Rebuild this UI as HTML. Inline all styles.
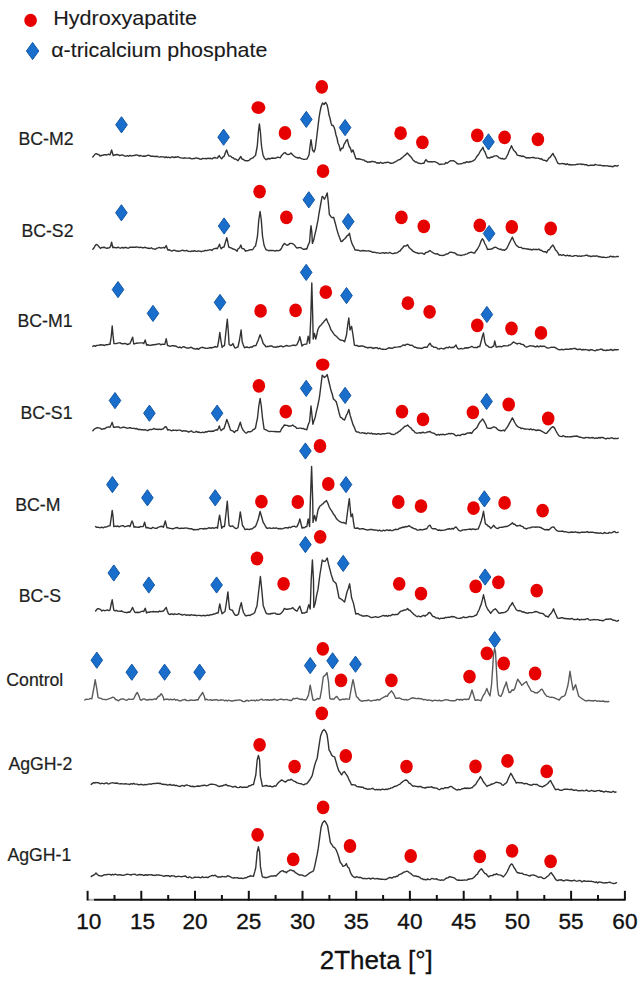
<!DOCTYPE html>
<html><head><meta charset="utf-8"><title>XRD patterns</title>
<style>html,body{margin:0;padding:0;background:#fff;}body{width:643px;height:984px;overflow:hidden;font-family:"Liberation Sans",sans-serif;}svg{display:block;}</style>
</head><body>
<svg width="643" height="984" viewBox="0 0 643 984"><defs><filter id="bl" x="-5%" y="-5%" width="110%" height="110%"><feGaussianBlur stdDeviation="0.5"/></filter></defs>
<g fill="none" stroke="#333" stroke-width="1.4" stroke-linejoin="round" stroke-linecap="round" filter="url(#bl)">
<path d="M92.8 157.0L93.9 155.6L95.1 154.1L96.2 153.6L97.5 154.3L98.7 154.6L100.0 156.0L101.4 155.5L102.8 155.3L104.2 154.6L105.6 154.8L107.0 155.0L108.5 154.2L110.0 155.0L111.6 150.0L113.2 155.5L114.5 155.0L115.8 154.7L117.1 154.5L118.4 154.9L119.7 155.7L121.0 155.1L122.3 154.9L123.5 155.4L124.8 156.1L126.1 156.0L127.4 155.6L128.7 156.3L130.0 155.3L131.3 156.0L132.6 155.6L133.9 155.5L135.2 155.2L136.5 154.9L137.8 155.1L139.1 156.0L140.4 155.5L141.6 155.9L142.9 156.2L144.2 156.0L145.5 156.2L146.8 155.6L148.1 155.3L149.4 155.4L150.7 156.2L152.0 156.2L153.3 156.1L154.6 156.5L155.9 156.5L157.2 156.3L158.4 156.9L159.7 157.1L161.0 156.6L162.3 156.9L163.6 156.9L164.9 157.5L166.2 157.0L167.5 157.6L168.8 157.1L170.1 157.8L171.4 157.0L172.7 157.0L174.0 157.6L175.3 157.0L176.6 157.2L177.9 156.7L179.2 157.4L180.5 157.9L181.8 157.9L183.1 158.3L184.4 157.8L185.7 158.1L187.0 158.1L188.3 158.1L189.6 158.0L190.9 158.5L192.2 158.9L193.5 158.5L194.8 158.5L196.1 157.8L197.4 158.3L198.7 158.5L200.0 159.1L201.3 159.2L202.6 158.4L203.9 158.6L205.3 158.5L206.6 158.8L208.0 158.2L209.3 158.5L210.7 158.3L212.0 159.0L213.4 157.9L214.8 157.5L216.1 158.1L217.5 158.0L218.5 156.5L219.3 155.6L220.3 157.5L221.7 158.8L222.8 157.1L224.0 156.5L225.5 152.5L226.6 150.0L227.8 153.5L229.0 156.0L230.5 156.1L232.0 157.5L233.2 157.7L234.4 159.1L235.6 159.0L236.8 159.8L238.0 160.7L239.8 158.0L240.8 156.5L242.0 159.0L243.5 159.5L244.9 160.6L246.4 160.7L247.7 160.8L249.0 160.4L250.3 159.1L251.6 158.4L252.9 157.9L254.2 156.5L255.5 155.5L257.3 146.0L258.4 132.0L259.4 123.9L260.4 132.0L261.5 146.0L263.0 155.0L264.0 157.3L265.0 158.8L266.2 159.7L267.5 158.8L268.8 158.5L270.0 159.0L271.3 158.2L272.6 158.0L273.8 158.2L275.1 158.3L276.4 157.9L277.6 157.2L278.9 157.4L280.2 157.8L281.6 155.4L283.0 154.0L284.0 153.1L285.0 152.5L286.5 154.1L288.0 154.5L289.5 154.3L291.0 153.0L292.5 154.8L294.0 156.0L295.5 157.1L297.0 157.5L298.2 158.1L299.5 157.5L300.8 158.4L302.0 158.8L303.2 159.2L304.5 159.4L305.8 159.1L307.0 159.0L308.0 157.0L309.0 155.0L310.0 146.7L311.0 139.6L312.5 150.0L314.0 152.0L315.2 149.0L317.0 135.0L318.0 126.4L319.0 118.0L320.0 111.8L321.0 107.0L322.5 103.0L324.0 104.5L325.5 102.4L327.0 104.6L328.0 108.9L329.0 115.0L330.0 118.1L331.0 123.0L332.0 125.6L333.0 125.4L334.0 127.0L335.0 130.3L336.0 135.0L337.0 138.0L338.0 143.0L339.2 145.7L340.4 150.8L341.7 148.3L343.0 148.0L344.0 144.4L345.0 143.0L346.2 140.6L347.4 139.6L349.0 146.0L350.3 148.0L351.6 152.0L353.0 150.0L354.4 154.3L355.8 158.5L357.1 159.0L358.4 158.8L359.7 159.0L361.1 159.4L362.4 159.9L363.7 159.9L365.0 161.0L366.3 161.3L367.6 162.2L368.9 162.0L370.2 162.0L371.5 161.5L372.8 161.4L374.1 161.8L375.4 162.0L376.7 163.0L378.0 162.7L379.3 163.3L380.7 162.3L382.0 163.3L383.4 163.2L384.7 162.5L386.1 162.7L387.4 162.1L388.8 162.4L390.1 163.2L391.5 163.3L392.8 163.1L394.2 162.4L395.6 161.7L397.1 160.8L398.6 159.7L400.0 159.5L401.3 158.4L402.7 157.3L404.0 156.0L405.6 154.9L407.2 153.0L408.6 154.5L410.0 156.0L411.5 157.6L413.0 160.0L414.2 160.9L415.4 162.1L416.6 162.0L417.8 163.1L419.1 163.3L420.3 163.5L421.5 163.6L422.8 163.1L424.0 163.3L425.0 161.0L426.0 159.6L427.5 161.5L429.0 161.7L430.5 161.6L432.0 162.0L433.3 161.6L434.5 161.6L435.8 162.2L437.0 162.6L438.3 163.5L439.5 164.6L440.8 164.3L442.1 164.1L443.4 164.1L444.7 164.0L446.0 162.5L447.2 163.3L448.4 162.2L449.6 161.3L450.8 160.7L452.0 160.9L453.2 160.7L454.5 161.2L455.8 162.2L457.0 163.4L458.2 164.1L459.5 163.9L461.0 163.8L462.5 163.3L464.0 162.5L465.2 162.9L466.4 161.8L467.6 162.0L468.8 162.3L470.0 161.5L471.2 161.7L472.5 161.2L473.8 160.3L475.0 159.5L476.5 157.0L478.0 155.0L479.2 153.3L480.4 151.0L481.7 149.5L482.9 147.2L483.9 150.4L485.0 152.0L486.2 155.3L487.5 158.1L488.7 157.7L489.8 158.0L491.0 157.0L492.4 157.3L493.9 156.1L495.3 155.9L496.5 155.8L497.6 156.2L498.8 157.6L500.0 158.0L501.1 158.8L502.3 158.3L503.5 159.1L504.6 159.0L505.8 158.3L507.0 156.0L508.2 153.6L509.5 150.0L510.5 148.0L511.5 145.7L512.5 148.0L513.5 150.0L514.7 151.2L515.9 152.4L517.1 155.0L518.3 155.4L519.5 155.7L520.6 155.8L521.8 156.5L523.0 156.0L524.3 156.7L525.6 157.5L526.9 158.0L528.2 157.6L529.5 158.0L530.9 157.6L532.2 157.5L533.6 157.4L535.0 158.0L536.4 158.1L537.7 158.1L539.0 158.4L540.4 159.0L541.6 158.8L542.9 160.1L544.1 160.2L545.4 160.7L546.6 161.2L547.8 159.7L549.0 158.0L550.3 157.1L551.6 155.1L552.9 153.4L554.0 155.9L555.0 157.0L556.5 160.5L558.0 163.4L559.3 163.8L560.7 163.9L562.0 163.4L563.3 163.8L564.7 163.8L566.0 164.6L567.3 163.7L568.6 164.8L569.9 164.5L571.2 165.1L572.6 164.6L573.9 164.9L575.3 164.8L576.7 164.3L578.1 164.2L579.4 164.1L580.8 163.9L582.0 164.6L583.2 164.1L584.4 164.7L585.6 164.6L586.8 164.8L588.0 165.6L589.2 165.5L590.4 165.3L591.6 165.1L592.9 165.2L594.1 165.4L595.3 164.4L596.7 164.9L598.1 165.1L599.5 165.2L600.8 165.3L602.2 165.7L603.6 165.7L605.0 165.8L606.3 165.9L607.7 165.8L609.0 166.3L610.3 166.3L611.6 166.5L613.0 166.7L614.3 165.8L615.6 165.7L617.0 166.2L618.3 165.5"/>
<path d="M92.8 249.2L93.9 248.1L95.1 245.7L96.2 244.4L97.6 245.1L99.0 246.7L100.4 248.4L101.7 247.5L102.9 247.5L104.2 247.2L105.5 247.9L106.7 248.3L108.0 248.0L109.2 247.9L110.5 246.5L111.6 242.2L112.8 247.5L114.1 247.3L115.4 247.7L116.8 247.8L118.1 247.1L119.4 247.8L120.7 248.2L122.0 247.4L123.4 248.0L124.7 247.5L126.0 247.4L127.3 248.0L128.6 248.1L130.0 247.2L131.3 247.1L132.6 247.2L133.9 247.3L135.3 247.2L136.6 247.0L138.0 247.1L139.3 247.7L140.6 247.2L142.0 247.7L143.3 247.8L144.6 247.3L146.0 247.6L147.3 248.2L148.7 248.3L150.0 248.5L151.3 247.8L152.7 248.8L154.0 248.9L155.4 249.3L156.7 248.2L158.1 247.9L159.4 247.4L160.8 248.1L162.1 247.8L163.5 247.4L164.8 248.0L166.2 245.6L167.8 250.0L169.2 249.7L170.5 250.6L171.9 251.0L173.2 250.4L174.6 250.1L175.9 251.0L177.3 251.0L178.6 251.3L180.0 251.0L181.3 250.6L182.7 250.2L184.0 250.9L185.3 250.8L186.6 250.3L188.0 251.3L189.3 251.4L190.6 251.6L192.0 250.8L193.3 251.4L194.6 250.6L196.0 251.4L197.3 251.2L198.6 250.9L199.9 251.1L201.3 251.7L202.6 251.1L203.9 251.0L205.3 250.4L206.6 250.6L208.0 250.3L209.3 249.9L210.7 249.7L212.0 250.5L213.4 248.9L214.8 248.6L216.1 248.3L217.5 248.5L218.7 246.0L219.5 244.2L220.3 247.0L221.2 248.8L222.6 247.3L224.0 247.0L225.5 242.0L226.8 237.6L227.8 242.0L228.7 247.0L229.8 247.5L230.9 247.7L232.0 248.5L233.2 249.0L234.5 249.3L235.8 250.1L237.0 251.2L238.2 248.7L239.5 248.0L240.8 245.1L242.0 248.5L243.1 248.6L244.3 249.2L245.4 251.2L246.7 250.7L248.0 250.6L249.4 249.9L250.7 249.8L252.0 249.8L253.2 249.0L254.3 247.0L255.5 246.0L256.5 241.3L257.5 236.0L258.8 220.0L260.1 211.5L261.3 220.0L262.5 236.0L264.0 245.0L265.0 247.5L266.0 249.8L267.3 250.1L268.7 250.7L270.0 250.5L271.3 250.5L272.6 250.4L273.8 250.6L275.1 251.1L276.4 250.4L277.6 250.7L278.9 250.6L280.2 250.0L281.4 248.5L282.5 246.0L284.4 243.4L285.8 244.5L287.2 245.4L288.6 244.6L290.0 243.4L291.4 243.4L292.8 243.7L294.2 244.7L295.6 246.7L297.0 248.0L298.2 247.7L299.4 247.6L300.7 247.4L301.9 248.5L303.1 249.2L304.4 249.3L305.6 248.8L306.8 249.0L308.2 245.1L309.6 242.0L310.5 230.0L311.0 225.8L311.8 232.0L312.4 243.4L313.8 239.8L314.9 234.4L316.0 230.0L317.0 224.8L318.0 220.2L319.0 213.5L320.0 208.0L321.1 201.8L322.2 196.4L323.3 197.3L324.4 199.2L325.8 196.5L327.2 193.0L328.2 201.5L329.4 214.5L330.8 216.4L332.2 217.7L333.6 217.3L335.5 224.0L336.9 229.6L338.3 234.2L339.6 237.8L341.0 241.6L342.3 241.3L343.5 239.8L344.8 238.8L346.0 237.3L347.3 235.5L348.5 235.0L349.4 233.2L350.8 239.7L352.3 244.4L353.6 246.6L355.0 250.0L356.2 249.9L357.5 250.3L358.8 250.3L360.0 251.0L361.3 250.9L362.5 250.5L363.8 250.7L365.0 250.6L366.3 251.1L367.6 250.9L368.8 250.8L370.1 251.3L371.3 251.5L372.6 252.4L373.9 252.2L375.2 252.4L376.6 252.8L377.9 252.9L379.2 253.1L380.5 253.4L381.8 252.9L383.1 252.6L384.5 253.3L385.8 252.6L387.1 253.0L388.4 253.1L389.7 252.4L391.0 253.1L392.4 253.6L393.7 253.5L395.0 253.0L396.2 253.1L397.5 252.7L398.8 251.4L400.0 251.0L401.3 249.3L402.7 247.7L404.0 246.0L405.2 246.0L406.3 245.8L407.5 244.7L408.9 247.2L410.4 248.7L411.8 249.9L413.2 251.4L414.6 252.0L415.9 252.7L417.3 252.8L418.7 253.6L420.1 253.1L421.5 253.1L422.9 253.5L424.3 254.3L425.7 252.5L427.1 252.4L428.5 251.6L429.9 250.5L431.1 251.5L432.4 252.3L433.6 253.2L434.8 253.6L436.1 254.1L437.3 253.6L438.6 254.7L439.8 255.3L441.1 255.4L442.3 255.5L443.5 255.3L444.8 255.0L446.0 253.9L447.2 254.1L448.5 253.3L449.7 252.4L451.0 252.1L452.2 252.4L453.5 252.8L454.7 252.9L456.0 253.9L457.2 254.9L458.5 255.0L459.7 255.1L461.0 255.5L462.2 255.1L463.5 254.9L464.7 254.7L465.9 254.2L467.2 253.8L468.4 253.0L469.6 252.6L470.9 252.3L472.1 252.3L473.4 253.0L474.6 253.0L476.1 250.7L477.5 249.0L478.6 247.0L479.6 245.0L481.0 241.2L482.3 238.8L483.6 240.4L485.0 244.0L486.2 246.0L487.5 249.6L488.7 249.2L489.8 249.4L491.0 249.0L492.4 248.7L493.9 247.7L495.3 247.2L496.5 247.7L497.6 248.3L498.8 248.8L500.0 249.5L501.1 249.1L502.3 250.2L503.5 249.8L504.6 250.3L505.7 249.4L506.9 248.3L508.0 246.0L509.5 242.8L510.9 240.0L512.4 237.2L513.7 240.5L515.0 243.0L516.2 245.2L517.4 246.1L518.6 247.2L520.0 247.4L521.3 247.4L522.6 248.6L524.0 248.5L525.4 248.6L526.8 249.1L528.1 248.8L529.5 249.6L530.8 249.3L532.2 250.0L533.5 249.1L534.9 249.6L536.2 249.3L537.6 249.7L538.9 249.0L540.2 250.2L541.5 250.2L542.8 251.4L544.0 251.8L545.3 251.6L546.6 252.8L548.0 250.2L549.5 249.5L550.6 247.5L551.8 246.2L552.9 245.0L554.2 247.1L555.5 250.0L556.7 251.0L557.9 252.9L559.1 255.2L560.5 254.7L561.8 255.5L563.2 254.7L564.5 255.4L565.9 255.9L567.3 255.1L568.6 255.9L570.0 255.5L571.3 256.1L572.7 256.4L574.0 255.8L575.3 255.6L576.6 255.6L578.0 256.4L579.3 255.9L580.6 256.4L581.9 256.0L583.2 255.9L584.5 255.7L585.8 255.3L587.1 255.2L588.4 256.1L589.6 255.9L590.9 256.7L592.2 256.2L593.5 255.9L594.8 256.2L596.1 255.9L597.4 256.0L598.7 256.9L600.0 256.5L601.3 257.2L602.6 257.3L603.9 257.1L605.2 257.4L606.5 257.6L607.8 257.1L609.1 257.1L610.5 256.2L611.8 256.7L613.1 256.5L614.4 256.9L615.7 256.9L617.0 256.4L618.3 256.5"/>
<path d="M92.8 346.4L94.1 345.6L95.4 346.3L96.7 345.4L97.9 345.4L99.2 345.1L100.5 344.8L101.8 345.0L103.2 345.0L104.5 345.5L105.9 344.7L107.3 344.8L108.6 344.3L110.0 344.4L111.3 336.0L112.2 326.0L113.1 336.0L114.0 343.6L115.2 343.6L116.5 343.5L117.7 343.1L118.9 342.9L120.2 342.8L121.4 343.6L122.6 343.8L123.9 343.7L125.1 343.3L126.3 344.0L127.5 344.5L128.8 344.0L130.0 343.6L131.5 340.0L132.6 337.2L133.8 344.0L135.1 343.6L136.3 343.3L137.6 343.0L138.8 343.1L140.1 342.9L141.3 342.9L142.6 342.9L143.8 343.6L145.2 340.0L146.6 345.0L147.9 344.7L149.2 345.3L150.5 345.4L151.8 345.0L153.1 344.7L154.4 344.8L155.7 344.5L157.0 344.3L158.3 343.8L159.6 343.9L160.9 344.8L162.2 344.1L163.5 344.3L164.8 344.4L166.2 338.8L167.6 345.6L168.8 345.8L170.1 346.4L171.3 345.9L172.6 345.8L173.8 345.8L175.0 346.0L176.3 346.3L177.5 347.2L178.8 347.6L180.0 347.0L181.3 348.0L182.6 347.0L183.9 346.6L185.2 347.3L186.5 348.0L187.8 347.9L189.2 348.0L190.5 347.3L191.8 347.5L193.1 348.5L194.4 348.8L195.7 349.1L197.0 348.4L198.3 349.4L199.6 348.4L200.9 347.7L202.2 347.3L203.5 347.6L204.8 348.0L206.1 348.4L207.4 348.3L208.7 348.1L210.0 347.5L211.2 348.0L212.5 347.5L213.8 347.4L215.0 346.5L216.2 347.0L217.5 346.8L218.8 340.0L219.8 332.4L220.8 340.0L222.1 347.3L223.3 346.1L224.5 345.5L225.8 333.0L227.3 319.3L228.2 330.0L229.1 344.5L230.5 345.5L231.7 345.0L232.9 343.6L234.7 347.8L235.8 348.0L236.9 347.2L238.0 347.0L239.5 340.0L241.1 330.0L242.2 341.7L243.3 345.0L244.5 347.8L245.8 347.2L247.0 347.0L248.2 347.4L249.5 347.7L250.8 346.9L252.0 347.3L253.3 345.9L254.7 345.7L256.0 345.5L257.1 342.7L258.3 340.0L260.1 334.7L261.8 339.0L263.2 343.5L264.6 345.0L266.0 346.8L267.3 346.3L268.5 346.6L269.8 346.0L271.1 346.0L272.3 346.3L273.6 347.1L274.9 347.0L276.1 347.3L277.4 346.5L278.7 346.8L279.9 346.2L281.2 345.9L282.4 346.7L283.7 346.7L285.0 346.2L286.2 345.5L287.5 345.8L288.7 346.1L290.0 346.0L291.4 345.6L292.8 345.1L294.2 345.2L295.6 345.5L297.0 344.6L298.0 342.2L299.0 340.0L299.8 336.7L300.6 340.0L302.0 346.0L303.2 344.8L304.4 344.4L305.6 344.1L306.8 344.0L307.5 340.0L308.2 336.2L309.6 343.2L310.7 320.0L311.8 283.0L312.8 320.0L313.2 339.0L314.4 333.4L315.8 339.0L316.9 334.2L318.0 329.2L319.0 327.2L320.0 326.0L321.1 325.0L322.2 323.6L323.3 322.6L324.4 320.8L325.4 320.0L326.4 318.8L327.7 322.0L329.2 325.0L331.0 330.0L332.2 331.4L333.4 333.4L334.7 335.2L336.0 336.0L337.5 337.5L339.0 339.0L340.4 340.1L341.8 340.2L343.2 340.6L344.6 341.8L346.5 335.0L347.7 325.0L348.8 318.0L350.0 330.0L351.6 326.4L353.0 335.0L354.4 345.1L355.7 345.5L357.0 345.4L358.4 346.3L359.7 346.3L361.0 346.0L362.4 346.0L363.7 346.4L365.0 347.0L366.3 347.2L367.6 348.0L369.0 347.4L370.3 347.5L371.6 347.4L372.9 348.5L374.2 348.0L375.6 347.7L376.9 347.6L378.2 348.8L379.5 348.1L380.8 348.9L382.1 349.2L383.4 349.1L384.8 349.4L386.1 349.4L387.4 348.5L388.7 347.8L390.0 348.0L391.3 348.3L392.6 348.3L394.0 347.2L395.3 347.4L396.6 347.1L398.0 346.9L399.3 346.6L400.6 346.8L402.1 345.7L403.5 344.9L405.0 345.5L406.3 344.4L407.7 344.3L409.0 344.6L410.3 345.4L411.7 345.2L413.0 346.0L414.5 347.2L415.9 347.3L417.4 348.2L418.8 347.8L420.1 348.3L421.5 348.5L422.9 348.0L424.3 347.1L425.6 347.2L427.0 347.4L428.5 345.0L430.0 343.2L431.5 346.0L432.8 346.2L434.1 347.4L435.4 347.3L436.7 347.7L438.0 348.9L439.3 349.0L440.5 348.4L441.8 348.4L443.0 348.8L444.3 348.9L445.5 347.9L446.8 347.3L448.0 348.0L449.4 346.8L450.8 347.8L452.1 347.3L453.5 347.5L454.8 346.4L456.0 345.0L457.2 347.7L458.5 349.0L459.8 348.9L461.1 348.3L462.4 348.9L463.7 348.6L465.0 348.0L466.3 347.7L467.7 348.0L469.0 347.5L470.4 347.1L471.7 346.4L473.1 347.1L474.4 347.6L475.8 347.4L477.1 347.6L478.5 346.4L479.8 346.5L481.5 340.0L482.5 336.0L483.5 333.0L484.8 341.9L486.0 345.0L487.6 345.8L489.1 347.2L490.3 347.4L491.5 347.5L492.6 346.6L493.8 346.0L494.7 341.0L496.2 347.2L497.6 346.8L498.9 346.5L500.3 346.4L501.6 346.8L503.0 346.0L504.2 345.6L505.4 345.9L506.6 345.9L507.8 345.9L509.0 345.0L510.5 344.7L511.9 343.5L513.4 341.9L514.6 342.6L515.8 343.1L517.0 344.0L518.5 343.4L520.0 343.4L521.3 344.4L522.6 344.4L523.8 345.0L525.1 346.5L526.4 347.2L527.8 346.7L529.1 346.1L530.5 345.7L531.8 346.1L533.2 345.9L534.6 346.7L535.9 346.8L537.3 345.9L538.8 347.0L540.4 345.9L541.7 346.5L543.0 346.2L544.3 346.2L545.6 347.0L546.9 347.8L548.2 348.1L549.4 347.9L550.7 347.4L551.9 347.3L553.2 347.4L554.4 347.2L555.7 347.9L556.9 348.6L558.2 349.4L559.4 349.7L560.7 349.6L562.1 349.3L563.4 349.8L564.8 349.3L566.1 349.3L567.5 349.1L568.8 349.4L570.1 348.8L571.5 349.0L572.8 348.6L574.1 348.5L575.3 348.4L576.6 349.4L577.9 349.5L579.2 349.2L580.4 349.2L581.7 350.0L583.0 349.5L584.2 349.8L585.5 349.4L586.8 349.9L588.0 350.0L589.2 350.6L590.5 349.6L591.8 349.7L593.0 350.2L594.2 350.6L595.5 350.8L596.8 349.8L598.0 350.0L599.3 349.6L600.5 349.2L601.8 349.1L603.1 350.2L604.3 350.1L605.6 350.6L606.9 350.0L608.1 350.4L609.4 350.0L610.7 349.5L612.0 350.0L613.2 350.5L614.5 349.5L615.8 349.7L617.0 349.8L618.3 349.6"/>
<path d="M92.8 430.8L93.9 429.5L95.1 428.6L96.2 428.0L97.6 427.7L99.0 427.9L100.4 428.3L101.8 429.4L103.2 428.8L104.5 428.8L105.9 427.9L107.3 427.1L108.6 426.9L110.0 427.2L111.3 424.5L112.2 422.4L113.6 427.2L114.9 427.2L116.2 426.9L117.4 427.0L118.7 426.9L120.0 427.8L121.3 427.9L122.6 427.3L123.9 427.1L125.1 427.5L126.4 427.9L127.7 428.3L129.0 427.8L130.3 427.7L131.6 428.4L132.8 428.4L134.1 428.3L135.4 428.8L136.8 428.5L138.2 429.6L139.6 429.3L141.0 429.7L142.4 429.6L143.8 430.0L145.1 429.7L146.4 430.2L147.7 430.7L149.0 429.9L150.3 429.3L151.6 429.7L152.9 429.1L154.3 428.5L155.6 429.4L156.9 429.2L158.2 429.5L159.5 429.1L160.8 429.5L162.1 429.1L163.4 428.8L164.5 427.3L165.6 426.6L166.6 427.4L167.6 430.0L168.9 429.7L170.3 430.2L171.6 430.8L173.0 430.0L174.3 430.4L175.6 430.3L177.0 430.5L178.3 430.1L179.6 430.1L181.0 430.5L182.3 431.3L183.7 430.6L185.0 431.0L186.3 430.9L187.5 431.5L188.8 432.1L190.0 431.3L191.3 430.9L192.5 431.9L193.8 432.4L195.1 432.1L196.3 431.3L197.6 432.2L198.8 432.0L200.1 432.6L201.3 432.6L202.6 432.2L203.9 432.7L205.3 431.7L206.6 432.0L208.0 431.3L209.3 431.1L210.7 431.5L212.0 431.0L213.4 431.4L214.8 430.4L216.1 429.8L217.5 430.0L218.5 428.0L219.3 425.9L220.2 429.0L221.2 430.6L222.6 429.2L224.0 428.5L225.5 424.0L226.8 419.4L228.5 424.0L229.5 426.9L230.5 430.1L231.8 430.6L233.0 431.0L234.3 432.4L235.9 430.8L237.5 430.5L239.0 426.0L240.3 422.2L241.6 427.0L243.0 430.0L244.2 431.4L245.4 432.9L246.7 433.1L248.0 431.8L249.4 431.7L250.7 431.7L252.0 431.0L253.2 429.5L254.3 429.2L255.5 428.0L256.5 422.6L257.5 418.0L258.8 406.0L260.1 398.4L261.3 406.0L262.5 418.0L264.1 429.2L265.5 429.7L266.9 430.4L268.3 431.1L269.7 431.5L271.0 431.4L272.3 431.4L273.6 431.6L274.9 431.5L276.3 431.8L277.6 431.7L278.9 431.6L280.2 431.7L281.6 428.8L283.0 427.0L284.4 425.0L285.8 425.3L287.2 425.4L288.6 426.2L290.0 426.0L291.4 425.9L292.8 425.0L294.2 426.3L295.6 426.9L297.0 428.4L298.2 428.4L299.4 428.1L300.7 428.1L301.9 428.6L303.1 428.4L304.4 429.0L305.6 429.4L306.8 429.8L308.2 424.8L309.6 421.4L311.0 406.0L312.9 424.2L314.0 420.5L315.2 417.2L316.4 411.4L317.5 407.0L319.4 397.6L321.0 385.0L322.2 375.2L323.3 376.3L324.4 377.4L325.8 376.4L327.2 374.6L328.5 380.0L330.0 386.4L331.1 390.8L332.3 394.3L333.4 399.0L334.8 400.1L336.2 401.8L337.6 406.6L339.0 412.5L340.4 417.2L341.8 417.9L343.2 419.4L344.6 420.0L346.5 415.0L347.6 413.1L348.8 409.4L350.2 415.5L351.6 420.0L353.0 424.6L354.4 427.4L355.8 431.2L357.1 432.1L358.4 432.0L359.7 432.8L361.1 433.2L362.4 432.5L363.7 433.2L365.0 433.0L366.3 433.9L367.6 433.0L368.9 433.1L370.2 433.7L371.5 433.2L372.8 434.1L374.1 433.7L375.4 434.0L376.7 434.4L378.0 433.7L379.3 433.8L380.6 434.5L381.9 433.8L383.2 433.6L384.5 433.8L385.9 433.6L387.2 433.2L388.5 433.1L389.8 433.1L391.1 434.2L392.4 434.3L393.7 434.7L395.0 434.0L396.2 433.1L397.5 432.8L398.8 431.4L400.0 431.0L401.3 429.5L402.7 428.5L404.0 427.0L405.2 426.2L406.4 426.1L407.6 425.0L408.7 426.3L409.9 427.3L411.0 428.0L412.4 430.2L413.8 430.9L415.2 432.7L416.6 433.2L417.9 433.1L419.3 432.7L420.6 433.0L422.0 432.5L423.3 432.3L424.6 432.9L426.0 432.6L427.3 432.0L428.6 431.8L430.0 431.5L431.4 432.6L432.8 433.0L434.1 433.3L435.5 434.5L436.9 435.1L438.2 434.4L439.4 435.0L440.7 434.4L442.0 434.5L443.4 434.3L444.8 434.8L446.2 434.3L447.6 434.1L449.0 433.4L450.2 433.8L451.4 433.5L452.6 433.6L453.8 434.0L455.0 435.1L456.2 435.8L457.5 435.3L458.8 435.3L460.1 435.6L461.4 434.7L462.7 434.2L464.0 434.5L465.3 434.3L466.6 433.4L467.9 432.9L469.1 433.0L470.4 432.7L471.7 433.4L472.9 431.4L474.2 429.9L475.4 429.0L476.7 427.9L477.8 425.9L478.9 423.6L480.0 422.0L481.4 420.5L482.7 419.0L483.9 420.9L485.0 423.0L486.0 424.9L487.0 427.9L488.3 428.4L489.7 428.1L491.0 428.5L492.3 427.5L493.5 426.8L494.8 427.2L496.1 427.8L497.4 429.3L498.7 430.3L500.0 430.5L501.1 430.8L502.3 430.5L503.5 430.1L504.6 431.0L505.7 429.1L506.9 427.7L508.0 426.0L509.5 423.1L510.9 420.7L512.4 417.9L513.7 420.4L515.0 423.0L516.2 425.0L517.4 426.4L518.6 427.2L520.0 427.6L521.3 428.6L522.6 428.2L524.0 429.0L525.4 429.0L526.8 429.1L528.1 429.1L529.5 429.7L530.8 428.9L532.2 429.8L533.5 429.3L534.9 429.8L536.2 430.6L537.6 430.0L538.9 430.3L540.2 430.3L541.5 431.2L542.8 431.8L544.0 432.5L545.3 433.4L546.6 433.4L548.0 431.5L549.5 430.0L550.6 428.5L551.8 427.3L552.9 426.6L554.5 427.9L556.0 431.0L557.5 433.6L559.1 435.9L560.5 436.4L561.8 436.6L563.2 435.7L564.5 436.5L565.9 436.8L567.3 436.6L568.6 436.9L570.0 436.6L571.3 436.8L572.7 436.5L574.0 436.2L575.3 436.2L576.6 436.0L578.0 436.4L579.3 437.2L580.6 437.2L581.9 437.6L583.2 438.0L584.5 438.0L585.8 437.4L587.1 437.6L588.4 437.5L589.6 438.0L590.9 437.9L592.2 437.5L593.5 437.8L594.8 438.5L596.1 437.8L597.4 438.4L598.7 437.5L600.0 438.0L601.3 437.5L602.6 437.4L603.9 438.0L605.2 438.7L606.5 438.7L607.8 438.1L609.1 438.6L610.5 438.1L611.8 437.7L613.1 438.5L614.4 438.5L615.7 438.5L617.0 438.6L618.3 438.1"/>
<path d="M95.6 526.6L96.8 527.4L98.1 527.1L99.3 527.6L100.6 527.7L101.8 527.2L103.2 527.8L104.5 527.0L105.9 527.0L107.3 526.6L108.6 525.9L110.0 525.8L111.2 518.0L112.2 510.4L113.2 518.0L113.8 526.6L115.1 526.1L116.5 526.5L117.8 526.0L119.2 526.9L120.5 526.2L121.9 525.8L123.2 525.6L124.6 526.7L126.0 526.4L127.3 526.0L128.7 525.6L130.0 526.6L131.2 523.0L132.0 521.0L133.0 523.0L134.0 527.2L135.3 526.8L136.6 527.1L137.9 527.2L139.3 527.3L140.6 526.4L141.9 526.6L143.2 526.6L144.6 522.2L146.0 527.8L147.3 527.5L148.7 528.0L150.0 528.3L151.4 528.5L152.7 527.4L154.0 527.9L155.4 528.3L156.7 528.4L158.0 527.3L159.4 526.9L160.7 526.5L162.1 526.2L163.4 527.2L165.3 521.0L167.0 527.8L168.3 527.8L169.6 528.4L170.9 528.4L172.2 528.7L173.5 528.7L174.8 528.2L176.1 527.7L177.4 527.5L178.7 528.4L180.0 528.5L181.3 528.1L182.6 528.2L183.9 528.4L185.2 527.9L186.5 528.1L187.8 528.2L189.2 528.9L190.5 528.8L191.8 528.8L193.1 529.7L194.4 529.5L195.7 529.9L197.0 529.4L198.3 529.7L199.6 528.7L200.9 528.6L202.2 528.6L203.5 529.0L204.8 528.5L206.1 528.7L207.4 528.5L208.7 527.8L210.0 528.0L211.2 528.4L212.5 527.7L213.8 528.3L215.0 527.8L216.2 527.3L217.5 528.2L218.7 520.0L219.6 515.2L220.6 521.0L221.7 528.2L223.1 526.5L224.5 526.5L225.8 515.0L227.3 501.2L228.2 514.0L229.1 525.4L230.5 526.5L232.4 525.9L233.8 527.0L235.2 528.2L236.6 528.5L238.0 527.5L239.2 520.0L240.3 511.9L241.6 520.0L242.5 525.5L243.8 527.2L245.0 529.6L246.4 529.3L247.8 529.2L249.2 529.6L250.6 528.9L252.0 529.0L253.2 528.0L254.3 527.1L255.5 526.5L256.9 523.1L258.3 519.0L260.1 511.5L262.0 518.0L263.2 522.5L264.4 524.2L265.7 526.8L266.9 528.2L268.2 528.2L269.6 527.8L270.9 528.4L272.2 528.4L273.5 527.8L274.9 528.3L276.2 527.8L277.5 528.5L278.9 528.8L280.2 528.5L281.5 528.9L282.8 528.7L284.1 528.1L285.4 527.8L286.7 527.6L288.0 528.1L289.2 527.1L290.5 527.7L291.8 526.7L293.1 526.4L294.4 526.2L295.7 527.0L297.0 526.6L298.0 524.4L299.0 522.0L299.8 519.0L300.6 522.0L302.0 528.0L303.2 527.5L304.4 527.8L305.6 526.8L306.8 526.6L308.2 519.0L309.6 526.6L310.4 500.0L311.6 466.4L312.7 500.0L313.0 522.4L314.6 515.4L316.0 521.0L317.0 515.3L318.0 509.8L319.0 507.9L320.0 506.0L321.1 505.4L322.2 504.2L323.3 503.6L324.4 502.0L325.4 501.7L326.4 500.5L327.7 503.0L329.2 507.0L330.6 509.4L332.0 511.4L333.4 514.0L334.7 515.4L336.0 518.0L337.5 519.7L339.0 521.0L340.4 521.9L341.8 522.6L343.2 522.5L344.6 523.0L346.0 523.8L347.5 512.0L349.3 498.6L351.0 516.8L352.4 514.0L353.4 521.3L354.4 528.0L355.7 528.4L357.0 528.0L358.4 528.3L359.7 529.2L361.0 528.8L362.4 528.6L363.7 528.8L365.0 529.5L366.3 529.6L367.6 530.2L369.0 529.7L370.3 529.4L371.6 529.5L372.9 529.7L374.2 530.2L375.6 529.9L376.9 530.1L378.2 530.8L379.5 530.0L380.8 530.9L382.1 531.0L383.4 530.1L384.8 530.8L386.1 530.0L387.4 529.9L388.7 530.6L390.0 530.0L391.3 530.6L392.7 530.5L394.0 529.9L395.3 529.3L396.7 529.5L398.0 529.4L399.2 528.5L400.4 528.0L401.6 527.8L402.8 527.0L404.0 527.5L405.2 526.5L406.5 526.7L407.8 526.5L409.0 525.7L410.3 526.6L411.7 527.5L413.0 528.0L414.5 528.8L415.9 529.0L417.4 530.2L418.8 529.9L420.1 529.5L421.5 529.7L422.9 529.9L424.3 529.2L425.6 529.0L427.0 528.5L428.5 526.0L430.0 525.2L431.5 528.0L432.8 528.8L434.1 528.8L435.4 528.7L436.7 529.5L438.0 530.3L439.3 530.0L440.5 530.5L441.8 530.3L443.0 530.4L444.3 530.1L445.5 529.8L446.8 529.3L448.0 529.0L449.4 528.8L450.8 529.1L452.1 528.5L453.5 529.0L454.8 527.6L456.0 526.9L457.2 528.4L458.3 529.9L459.5 530.8L460.8 531.0L462.1 530.2L463.4 529.9L464.8 529.7L466.1 529.8L467.4 529.4L468.7 529.4L470.0 529.0L471.4 529.7L472.7 528.9L474.1 529.2L475.5 529.5L476.8 529.1L478.2 529.0L479.8 524.9L481.3 520.7L482.4 516.7L483.5 511.3L485.4 523.8L486.7 524.6L488.0 526.0L489.4 526.7L490.7 528.4L492.2 527.0L493.8 525.3L495.4 527.5L496.9 528.4L498.1 528.5L499.4 527.4L500.6 527.4L501.9 527.2L503.1 527.2L504.3 526.7L505.6 526.5L506.8 526.5L508.1 525.9L509.3 525.3L510.9 524.1L512.4 522.8L513.6 524.2L514.8 524.3L515.9 525.4L517.1 526.0L518.7 525.6L520.2 525.3L521.4 526.4L522.7 526.4L523.9 528.0L525.2 528.3L526.4 529.0L527.8 528.1L529.1 527.9L530.5 527.8L531.8 527.0L533.2 527.1L534.6 527.0L535.9 527.2L537.3 526.9L538.5 527.1L539.6 527.2L540.8 527.4L542.0 528.4L543.2 528.8L544.5 529.7L545.7 529.7L547.0 529.5L548.2 530.0L549.4 529.5L550.5 528.5L551.7 527.3L552.9 526.9L554.0 527.2L555.2 528.9L556.4 530.3L557.5 530.9L558.8 531.4L560.1 531.3L561.4 531.4L562.7 531.0L564.0 531.9L565.2 531.6L566.5 531.9L567.8 532.3L569.1 532.6L570.4 532.3L571.7 532.0L573.0 532.2L574.3 532.2L575.6 531.8L576.9 532.5L578.3 532.3L579.6 532.9L580.9 532.3L582.2 532.3L583.5 532.1L584.8 532.2L586.2 532.0L587.5 531.7L588.8 532.5L590.1 532.3L591.4 532.2L592.7 532.3L594.1 532.6L595.4 532.7L596.7 533.0L598.0 533.0L599.3 533.2L600.5 532.8L601.8 533.4L603.1 533.6L604.3 532.5L605.6 533.0L606.9 533.4L608.1 533.4L609.4 532.4L610.7 532.9L612.0 532.8L613.2 531.9L614.5 531.4L615.8 532.5L617.0 532.6L618.3 532.2"/>
<path d="M95.6 611.0L96.6 609.6L97.6 608.8L99.0 608.8L100.4 609.4L101.8 611.0L103.2 610.1L104.5 610.7L105.9 610.4L107.3 609.9L108.6 610.6L110.0 610.2L111.2 604.0L112.2 599.8L113.8 610.2L115.1 610.9L116.3 610.3L117.6 611.1L118.9 611.1L120.1 611.4L121.4 611.0L122.8 611.7L124.2 612.2L125.6 612.4L127.0 612.7L128.4 612.0L129.8 612.2L131.2 610.1L132.6 607.4L133.7 610.0L134.8 612.2L136.1 612.5L137.4 612.2L138.7 612.5L139.9 612.2L141.2 611.6L142.5 611.2L143.8 611.6L145.2 608.2L146.6 613.0L147.9 612.1L149.2 612.3L150.5 611.7L151.8 611.9L153.1 611.5L154.4 611.7L155.6 611.7L156.9 611.7L158.2 612.1L159.5 611.0L160.8 611.6L162.1 611.2L163.4 611.0L164.8 609.3L166.2 607.4L167.3 610.9L168.4 613.8L169.7 614.5L171.0 614.0L172.2 613.9L173.5 614.6L174.8 613.8L176.1 614.2L177.3 614.4L178.6 613.7L179.9 614.2L181.2 614.5L182.4 615.1L183.7 614.6L185.0 614.5L186.3 615.3L187.6 615.0L188.8 614.9L190.1 615.5L191.4 614.6L192.7 615.1L193.9 615.3L195.2 615.0L196.5 615.7L197.8 615.4L199.0 615.4L200.3 615.5L201.6 615.9L202.8 615.4L204.1 615.5L205.4 615.8L206.6 615.3L207.9 615.3L209.1 615.5L210.3 614.7L211.5 614.9L212.8 614.3L214.0 614.0L215.4 613.7L216.8 613.0L218.2 613.0L219.0 608.0L219.8 604.0L220.8 609.0L222.1 613.8L223.6 612.5L225.0 611.5L226.5 602.0L227.9 591.9L228.8 602.0L229.6 609.2L231.0 610.0L232.4 610.1L233.8 613.2L235.2 615.2L236.3 615.3L237.4 615.1L238.5 614.0L240.0 607.0L241.3 602.6L242.5 609.0L243.5 612.5L245.4 615.7L246.6 615.7L247.7 615.4L248.8 615.2L250.0 615.5L251.2 614.7L252.4 614.1L253.6 613.6L254.8 612.4L255.9 608.8L257.0 606.0L258.6 592.0L260.4 576.5L261.8 590.0L263.2 605.4L264.6 609.3L266.0 612.9L267.3 613.9L268.7 614.0L270.0 614.0L271.3 613.5L272.6 613.5L273.8 613.1L275.1 613.1L276.4 614.1L277.6 614.2L278.9 614.3L280.2 614.0L281.6 612.7L283.0 611.1L284.4 608.4L285.8 609.2L287.2 609.3L288.6 609.0L290.0 608.9L291.4 608.5L292.8 607.6L294.2 609.2L295.6 610.4L297.0 611.2L298.4 608.5L299.8 606.2L300.9 609.8L302.0 613.2L303.2 613.0L304.4 613.1L305.6 612.2L306.8 612.3L307.8 607.9L308.8 604.8L310.2 609.0L311.2 580.0L312.4 560.0L313.5 580.0L313.8 607.6L315.2 603.4L316.6 595.4L318.0 589.4L319.0 581.6L320.0 574.0L321.1 567.5L322.2 560.0L323.6 561.2L325.0 561.4L326.1 559.8L327.2 558.0L328.6 564.4L330.0 569.8L331.1 574.2L332.3 577.7L333.4 581.0L334.8 582.3L336.2 583.8L337.6 590.5L339.0 597.8L340.4 598.6L341.8 599.5L343.2 600.7L344.6 602.0L345.8 597.1L347.0 592.0L348.3 588.5L349.6 583.8L350.6 590.5L351.6 597.8L353.5 603.4L354.6 608.6L355.8 614.0L357.1 613.6L358.4 613.7L359.7 614.9L361.1 615.2L362.4 616.1L363.7 616.0L365.0 616.0L366.3 615.6L367.6 615.8L369.0 616.3L370.3 617.1L371.6 617.7L372.9 617.3L374.2 617.1L375.6 616.6L376.9 617.2L378.2 617.4L379.5 616.8L380.9 616.3L382.2 615.8L383.6 615.4L384.9 616.1L386.3 615.5L387.6 616.3L388.9 615.4L390.3 615.9L391.6 615.0L393.0 614.3L394.3 614.9L395.7 614.4L397.0 614.6L398.2 613.8L399.5 612.4L400.8 611.1L402.0 611.0L403.4 610.3L404.8 610.0L406.2 609.7L407.6 608.4L408.7 610.1L409.9 610.2L411.0 611.5L412.2 612.7L413.5 614.1L414.8 615.0L416.0 616.0L417.3 616.7L418.6 616.0L419.9 616.7L421.1 616.7L422.4 615.8L423.7 615.3L425.0 616.2L426.2 615.1L427.4 614.7L428.5 613.0L429.7 612.5L430.8 613.4L431.9 615.3L433.0 616.5L434.3 616.6L435.5 617.8L436.8 618.1L438.0 617.9L439.3 619.0L440.6 618.3L441.8 618.4L443.1 618.1L444.3 618.2L445.6 617.3L446.8 617.7L448.1 617.2L449.3 617.2L450.6 617.0L451.8 616.5L453.1 616.7L454.4 616.8L455.7 617.5L457.1 618.1L458.4 618.4L459.7 618.3L461.0 618.0L462.3 617.7L463.6 616.9L464.9 617.6L466.2 617.5L467.5 617.4L468.8 616.6L470.1 616.5L471.4 616.8L472.7 616.6L474.0 616.1L475.3 615.3L476.6 615.0L477.8 612.2L479.0 610.0L480.1 606.9L481.3 604.1L482.4 599.7L483.5 594.8L484.8 600.5L486.0 605.7L487.2 608.3L488.4 610.3L489.5 611.6L490.7 613.4L491.9 611.6L493.0 610.4L494.1 609.5L495.3 608.8L496.5 609.9L497.6 611.5L498.8 613.0L500.0 613.4L501.3 612.6L502.6 612.7L503.9 612.5L505.2 612.1L506.5 611.3L507.8 610.3L508.9 608.1L510.0 606.0L511.2 604.7L512.4 602.5L513.6 605.1L514.8 607.0L515.9 609.2L517.1 610.3L518.4 610.9L519.8 610.5L521.1 611.2L522.4 612.1L523.7 611.8L525.1 612.7L526.4 612.8L527.8 613.4L529.1 612.6L530.5 612.6L531.8 612.7L533.2 612.3L534.6 611.8L535.9 611.5L537.3 611.9L538.5 612.4L539.6 613.1L540.8 613.2L542.0 613.4L543.2 613.7L544.5 615.1L545.7 616.2L547.0 616.3L548.2 617.2L549.5 615.1L550.9 613.6L552.2 611.7L553.5 608.8L554.8 612.3L556.2 615.2L557.5 618.1L558.8 618.4L560.2 618.0L561.5 617.8L562.8 617.8L564.2 618.5L565.5 618.5L566.9 618.8L568.2 618.8L569.5 619.0L570.9 618.7L572.2 618.4L573.5 619.6L574.9 619.4L576.2 619.6L577.5 619.0L578.8 619.5L580.0 620.0L581.3 619.3L582.6 619.6L583.9 619.4L585.2 619.5L586.5 618.9L587.7 618.6L589.0 619.8L590.3 620.2L591.6 619.9L592.9 619.8L594.2 619.4L595.4 619.9L596.7 619.6L598.0 619.6L599.3 620.3L600.6 620.4L601.8 620.5L603.1 620.8L604.4 620.0L605.7 619.3L607.0 619.2L608.2 619.2L609.5 619.0L610.8 618.9L612.1 619.6L613.4 620.4L614.7 620.3L615.9 620.9L617.2 621.2L618.5 620.3"/>
<path stroke="#5a5a5a" d="M84.8 700.0L86.2 699.1L87.6 699.4L89.0 699.1L90.4 698.4L91.8 698.8L93.5 690.0L95.2 679.8L97.0 690.0L98.0 697.2L99.2 698.1L100.5 698.1L101.8 698.9L103.0 699.4L104.4 699.4L105.8 699.7L107.2 699.4L108.6 698.8L110.0 698.4L111.4 697.8L112.8 697.2L114.2 697.7L115.6 699.5L117.0 700.0L118.3 700.8L119.6 699.9L120.9 699.1L122.2 699.0L123.5 699.0L124.8 699.7L126.0 700.1L127.3 700.1L128.6 698.9L129.9 699.4L131.2 699.4L132.5 699.3L133.8 698.8L135.5 695.0L137.2 692.4L139.0 696.0L140.0 699.4L141.3 700.3L142.7 699.2L144.1 698.8L145.4 699.5L146.8 700.0L148.1 700.0L149.4 699.4L150.8 699.5L152.1 699.8L153.5 699.1L154.8 699.0L156.2 699.4L157.3 697.7L158.4 696.3L159.5 696.0L161.2 693.8L162.2 695.0L163.2 697.0L164.0 700.0L165.3 699.3L166.6 699.3L167.9 699.1L169.2 699.8L170.5 699.2L171.8 699.9L173.2 699.5L174.5 699.1L175.8 700.2L177.1 699.7L178.4 700.5L179.7 700.7L181.0 700.9L182.3 700.0L183.6 699.9L184.9 699.4L186.2 700.3L187.5 700.6L188.8 700.5L190.2 700.2L191.5 699.9L192.8 700.4L194.1 700.2L195.4 700.3L196.7 699.6L198.0 700.0L199.5 696.9L201.0 695.0L202.7 692.4L204.5 697.0L205.2 700.0L206.5 699.1L207.8 699.9L209.1 700.1L210.4 699.6L211.7 700.4L213.0 700.0L214.3 700.0L215.6 699.7L216.9 699.7L218.3 700.5L219.6 700.2L220.9 699.8L222.2 700.1L223.5 700.0L224.8 700.8L226.1 700.1L227.4 701.0L228.7 700.2L230.0 700.6L231.3 701.0L232.7 701.0L234.0 700.4L235.3 700.5L236.7 700.2L238.0 700.1L239.3 699.9L240.7 700.1L242.0 701.0L243.3 701.5L244.7 701.6L246.0 700.6L247.3 700.3L248.7 701.0L250.0 700.6L251.3 700.1L252.6 700.6L253.9 700.2L255.2 701.0L256.5 700.0L257.8 700.6L259.0 700.2L260.3 699.7L261.6 699.2L262.9 700.1L264.2 700.1L265.5 699.6L266.8 700.0L268.1 699.7L269.5 700.4L270.8 699.8L272.1 700.0L273.4 699.5L274.8 699.3L276.1 700.0L277.4 700.3L278.7 699.7L280.1 699.3L281.4 699.1L282.7 699.7L284.0 699.8L285.4 699.6L286.7 699.4L288.0 699.9L289.3 700.2L290.7 700.5L292.0 700.0L293.4 698.3L294.7 698.9L295.9 698.4L297.2 698.1L298.4 698.9L299.7 699.0L301.0 699.6L302.2 699.0L303.5 699.8L304.7 699.7L306.0 700.0L307.2 697.9L308.5 695.0L310.2 685.2L312.0 695.0L313.0 700.0L314.4 700.4L315.8 699.7L317.2 698.5L318.6 699.0L320.0 698.3L321.5 690.0L323.3 676.8L324.5 675.9L325.6 674.8L327.0 672.6L328.4 681.0L329.8 698.3L331.2 699.2L332.6 698.9L334.0 699.2L335.4 697.3L336.8 696.4L338.2 698.4L339.6 700.0L340.8 699.8L342.1 699.3L343.3 699.3L344.5 699.5L345.7 698.8L346.9 699.1L348.2 699.1L349.4 699.2L351.0 690.0L352.0 684.7L353.0 679.6L354.0 684.2L355.0 690.0L356.4 696.4L357.8 697.8L359.2 699.6L360.6 700.6L361.9 701.3L363.2 700.6L364.5 700.8L365.8 700.4L367.1 700.7L368.4 699.9L369.7 700.6L371.0 701.0L372.3 700.6L373.6 700.4L374.9 700.3L376.2 700.2L377.5 699.4L378.8 700.0L380.2 699.5L381.6 698.3L383.0 697.6L384.4 696.8L385.8 696.0L387.2 696.4L388.6 693.8L390.0 692.7L391.4 690.8L392.8 692.7L394.2 694.9L395.6 698.3L396.8 698.3L398.1 698.2L399.3 697.9L400.6 698.7L401.8 699.2L403.1 699.4L404.3 699.9L405.6 699.4L406.8 700.0L408.2 699.7L409.6 699.3L411.0 698.3L412.3 698.0L413.5 697.8L414.8 698.3L416.1 698.6L417.3 698.5L418.6 698.3L419.9 698.7L421.1 698.6L422.4 699.2L423.7 699.9L424.9 699.4L426.2 699.8L427.5 700.3L428.7 699.8L430.0 700.2L431.3 700.5L432.7 701.0L434.0 700.4L435.3 700.2L436.7 700.7L438.0 700.5L439.4 700.2L440.7 700.8L442.0 700.9L443.4 700.3L444.7 699.9L446.0 699.8L447.4 699.9L448.7 700.2L450.1 700.6L451.4 700.7L452.8 700.8L454.2 700.7L455.5 700.6L456.9 699.4L458.3 699.4L459.6 700.0L461.0 699.3L462.3 700.2L463.6 699.4L464.9 699.2L466.3 699.5L467.6 699.2L468.9 699.3L470.5 695.0L472.0 690.0L473.5 695.0L475.1 700.2L476.3 700.3L477.5 699.8L478.7 700.1L479.9 700.4L481.1 700.7L482.2 697.7L483.4 695.3L484.5 694.0L485.6 691.5L486.8 688.5L488.5 693.0L490.0 695.9L491.5 685.0L492.5 670.6L493.5 655.0L494.6 648.5L495.5 652.0L496.5 670.6L497.5 688.0L498.6 695.0L499.8 696.1L501.0 696.3L502.5 693.0L504.0 688.0L505.1 685.6L506.3 682.0L507.7 688.0L509.1 692.6L510.6 692.2L512.0 690.0L513.4 690.2L514.8 688.5L516.2 683.6L517.7 679.1L519.1 681.3L520.4 683.0L521.8 685.3L522.9 684.5L524.1 683.2L525.2 682.5L526.4 681.6L527.6 684.5L528.8 686.7L529.9 688.5L531.1 690.9L532.3 691.3L533.6 691.7L534.8 692.8L536.1 692.7L537.3 693.1L538.5 691.8L539.6 691.2L540.8 689.6L542.0 689.1L543.1 690.8L544.3 693.2L545.5 694.7L546.6 696.2L547.9 696.4L549.1 696.9L550.4 697.4L551.6 697.3L552.9 697.4L554.1 697.7L555.4 698.3L556.6 698.9L557.9 699.3L559.1 700.2L560.3 698.5L561.6 697.1L562.8 696.5L564.1 696.1L565.3 694.7L566.6 690.1L568.0 685.0L569.0 678.4L570.0 671.3L571.5 681.0L573.1 690.0L574.4 687.1L575.6 684.7L577.2 690.6L578.7 696.2L580.1 697.2L581.4 698.2L582.8 699.2L584.1 700.0L585.5 700.9L586.8 700.7L588.1 700.5L589.5 700.4L590.8 700.7L592.1 700.7L593.4 701.0L594.7 700.4L596.0 700.6L597.4 701.4L598.7 700.9L600.0 701.2L601.3 701.2L602.5 701.3L603.8 701.0L605.0 701.9L606.3 701.4L607.5 701.8L608.8 701.5"/>
<path d="M91.2 784.4L92.4 783.4L93.6 782.6L94.8 783.0L96.0 782.4L97.4 782.8L98.8 782.7L100.2 783.8L101.5 783.3L102.8 783.4L104.1 783.8L105.4 783.1L106.7 782.9L108.0 783.8L109.2 783.9L110.5 783.1L111.8 782.9L113.1 782.8L114.4 783.2L115.7 783.3L117.0 783.0L118.3 783.6L119.5 783.9L120.8 783.6L122.1 783.8L123.4 783.9L124.6 784.0L125.9 783.7L127.2 784.1L128.5 784.1L129.7 784.5L131.0 783.6L132.3 784.2L133.5 783.4L134.8 784.0L136.1 784.1L137.4 784.1L138.6 784.8L139.9 784.6L141.2 784.3L142.5 784.7L143.7 785.1L145.0 784.4L146.3 784.8L147.6 784.3L148.8 784.1L150.1 783.9L151.4 784.2L152.7 783.6L154.0 783.5L155.3 783.6L156.6 783.3L157.8 783.1L159.1 783.5L160.4 783.2L161.8 784.2L163.2 784.3L164.6 784.5L166.0 784.4L167.4 785.2L168.7 784.8L170.0 784.5L171.2 785.0L172.5 785.3L173.8 784.8L175.1 785.7L176.4 785.3L177.7 785.9L178.9 786.2L180.2 786.5L181.5 785.6L182.8 785.5L184.1 786.2L185.4 785.3L186.7 784.9L187.9 785.4L189.2 785.6L190.5 786.3L191.8 786.5L193.1 786.2L194.3 786.8L195.6 786.4L196.9 786.2L198.2 786.0L199.5 786.3L200.8 785.8L202.0 785.4L203.3 785.5L204.6 785.1L205.9 785.7L207.2 785.6L208.5 785.2L209.8 784.4L211.0 784.3L212.3 784.2L213.6 784.4L215.0 784.6L216.4 785.1L217.8 785.9L219.2 786.6L220.6 786.0L222.0 786.0L223.4 785.3L224.8 785.0L226.2 784.4L227.6 785.8L229.0 785.7L230.4 786.2L231.8 786.6L233.0 787.2L234.3 786.5L235.5 786.4L236.8 787.4L238.0 787.6L239.3 787.4L240.5 786.7L241.8 787.5L243.0 787.2L244.2 787.3L245.4 787.2L246.6 787.3L247.8 787.0L249.0 785.6L250.5 785.7L252.0 784.6L253.5 784.5L254.7 779.3L255.8 775.0L257.2 760.0L258.4 755.4L259.6 760.0L260.4 776.4L261.4 781.1L262.4 786.2L263.7 786.1L265.1 785.7L266.4 785.5L267.8 786.0L269.1 786.3L270.4 786.0L271.8 786.8L273.1 786.7L274.5 785.8L275.8 786.2L277.4 783.8L279.0 782.0L280.2 781.2L281.4 780.0L282.8 780.5L284.2 781.5L285.6 782.0L287.0 780.7L288.4 780.0L289.8 780.1L291.2 779.2L292.6 780.3L294.0 781.3L295.4 781.6L296.8 782.8L298.2 783.1L299.6 783.6L301.0 783.7L302.4 784.4L303.8 784.8L305.3 783.9L306.7 783.7L308.2 782.0L309.5 780.3L310.9 777.8L312.2 775.6L313.4 770.3L314.5 766.0L315.9 761.4L317.2 758.2L318.3 750.7L319.5 742.7L320.6 735.8L322.5 731.0L324.2 729.6L325.6 731.2L327.0 734.4L328.0 741.2L329.0 749.8L330.4 752.2L331.8 755.4L333.2 756.3L334.6 756.8L336.0 761.7L337.4 766.7L338.8 770.8L340.2 772.6L341.6 775.0L343.0 772.5L344.4 771.6L345.6 773.4L346.8 775.1L348.0 777.2L349.1 779.9L350.3 782.1L351.4 784.8L352.7 784.6L353.9 784.9L355.2 785.0L356.5 786.3L357.8 786.7L359.0 786.7L360.3 787.0L361.6 787.3L362.9 787.1L364.1 788.3L365.4 788.5L366.6 788.8L367.9 789.4L369.1 789.0L370.4 789.1L371.6 788.7L372.9 788.3L374.1 789.3L375.4 789.8L376.6 789.3L377.9 789.9L379.1 789.4L380.5 790.0L381.8 789.3L383.2 789.3L384.6 789.7L385.9 789.2L387.3 789.5L388.6 788.7L390.0 788.5L391.2 787.9L392.4 787.8L393.6 786.9L394.8 786.3L396.0 786.2L397.2 785.7L398.5 784.7L399.8 784.3L401.0 783.0L402.2 782.1L403.5 781.0L404.8 780.3L406.0 780.0L407.4 780.6L408.8 782.8L410.2 783.6L411.6 785.0L413.0 786.2L414.3 785.9L415.7 786.4L417.0 786.5L418.3 786.7L419.7 786.5L421.0 786.5L422.3 787.6L423.7 787.6L425.0 788.0L426.3 787.5L427.7 787.2L429.0 787.2L430.3 787.1L431.7 786.8L433.0 787.7L434.3 787.8L435.6 788.1L437.0 788.2L438.3 789.3L439.6 789.7L440.9 788.7L442.1 788.3L443.4 788.8L444.7 787.8L445.9 787.6L447.2 787.8L448.5 787.7L449.7 786.6L451.0 786.4L452.2 786.9L453.5 788.2L454.8 788.8L456.0 789.7L457.3 790.1L458.5 789.3L459.8 789.8L461.0 789.4L462.3 788.7L463.5 788.6L464.8 788.0L466.0 788.5L467.3 788.0L468.5 788.5L469.8 788.3L471.0 787.8L472.3 787.7L473.5 786.1L474.8 785.2L476.0 784.0L477.5 781.1L478.9 779.4L480.4 776.6L481.9 778.9L483.4 782.0L484.6 783.3L485.8 784.9L487.0 786.4L488.2 785.5L489.5 785.4L490.8 784.5L492.0 784.0L493.2 783.7L494.4 783.3L495.5 782.5L496.7 782.2L498.0 782.6L499.3 782.8L500.7 783.3L502.0 784.9L503.3 785.4L504.5 784.1L505.8 783.3L507.0 782.0L508.3 778.6L509.5 776.0L510.8 773.3L512.2 775.5L513.5 778.1L514.9 780.3L516.3 783.1L517.7 782.4L519.0 782.7L520.4 782.7L521.8 782.7L523.1 783.5L524.5 783.8L525.7 783.5L527.0 783.6L528.2 784.4L529.4 784.7L530.6 785.0L531.8 785.2L533.1 784.3L534.3 784.4L535.7 784.5L537.0 784.4L538.4 785.5L539.8 786.3L541.1 786.4L542.5 787.0L543.8 786.0L545.2 785.5L546.5 784.5L547.9 783.5L549.2 781.7L550.6 780.5L551.8 783.2L553.0 785.1L554.3 787.6L555.5 789.7L556.8 789.4L558.1 789.1L559.4 790.0L560.6 790.3L561.9 790.4L563.2 789.6L564.5 789.2L565.8 789.2L567.1 789.2L568.4 789.4L569.6 789.6L570.9 789.3L572.2 789.5L573.5 790.3L574.8 790.2L576.1 789.9L577.4 790.6L578.7 790.7L580.0 790.9L581.3 790.4L582.6 790.5L583.9 790.9L585.2 790.6L586.5 790.0L587.8 790.9L589.1 791.3L590.4 790.8L591.7 790.3L593.0 791.0L594.3 791.2L595.6 791.3L596.8 790.6L598.1 790.6L599.4 790.4L600.7 791.3L601.9 791.0L603.2 791.8L604.5 792.0L605.8 791.2L607.1 791.7L608.3 791.6L609.6 792.0L610.9 792.4L612.2 791.8L613.4 791.3L614.7 792.3L616.0 792.0"/>
<path d="M91.2 876.6L92.4 875.6L93.6 875.3L94.8 874.4L96.0 873.0L97.4 874.5L98.8 875.6L100.2 875.8L101.6 876.1L103.0 875.5L104.4 874.6L105.8 874.9L107.2 874.5L108.6 874.4L109.9 874.4L111.2 875.1L112.6 874.3L113.9 874.8L115.2 874.1L116.5 874.6L117.8 875.1L119.1 874.6L120.5 874.7L121.8 875.4L123.1 875.3L124.4 875.1L125.7 874.7L127.0 874.2L128.4 874.4L129.7 874.6L131.0 875.0L132.3 874.4L133.5 874.4L134.8 874.2L136.1 874.9L137.4 875.2L138.6 874.7L139.9 874.5L141.2 874.8L142.5 874.8L143.7 875.5L145.0 875.0L146.3 874.7L147.5 875.4L148.8 874.7L150.1 874.9L151.4 874.7L152.6 875.3L153.9 875.2L155.2 875.5L156.5 874.8L157.7 875.1L159.0 875.0L160.2 875.4L161.5 875.4L162.7 875.9L164.0 876.4L165.2 875.7L166.5 875.7L167.7 875.8L169.0 875.8L170.2 876.6L171.5 875.7L172.8 875.9L174.0 875.9L175.3 876.7L176.6 876.7L177.9 876.3L179.2 876.4L180.5 876.6L181.8 876.7L183.0 876.4L184.3 876.2L185.6 876.0L186.9 877.3L188.2 877.7L189.4 876.9L190.7 877.4L192.0 878.1L193.3 877.9L194.6 877.2L195.9 877.3L197.2 877.4L198.4 877.1L199.7 877.5L201.0 877.7L202.3 876.7L203.5 877.5L204.8 877.4L206.0 877.3L207.3 877.5L208.6 877.2L209.8 876.3L211.1 875.8L212.3 875.3L213.6 875.8L215.0 875.1L216.4 876.2L217.8 877.1L219.2 876.8L220.6 877.2L222.0 876.4L223.4 876.6L224.8 876.8L226.2 876.9L227.6 875.8L229.0 876.1L230.4 876.9L231.8 877.6L233.2 878.0L234.6 877.7L236.0 877.9L237.4 877.6L238.8 878.4L240.2 878.2L241.6 878.2L243.0 878.6L244.2 878.1L245.4 877.6L246.6 877.8L247.8 876.8L249.0 876.6L250.5 875.7L252.0 876.1L253.5 876.2L254.7 871.9L255.8 867.5L257.2 852.0L258.4 846.8L259.6 852.0L260.4 866.4L261.4 872.1L262.4 876.8L263.7 877.3L265.1 877.5L266.4 877.7L267.8 877.1L269.1 876.8L270.4 876.1L271.8 875.9L273.1 876.2L274.5 875.6L275.8 876.2L277.4 874.5L279.0 873.0L280.3 871.7L281.5 871.1L282.8 870.6L284.0 871.8L285.2 871.7L286.4 872.8L287.6 871.3L288.8 870.9L290.0 870.0L291.2 870.0L292.6 870.8L294.0 871.0L295.4 872.7L296.8 873.4L298.2 874.4L299.6 875.0L301.0 875.0L302.4 875.1L303.8 875.9L305.2 876.2L306.6 875.4L308.0 874.3L309.4 873.1L310.8 872.3L312.2 871.7L313.6 870.6L314.8 865.8L316.0 860.0L317.1 854.9L318.3 848.2L319.7 837.6L321.1 827.2L322.5 823.0L323.6 821.6L324.8 820.8L326.2 823.1L327.6 825.8L329.0 834.2L330.4 842.6L331.8 844.5L333.2 846.8L334.6 847.7L336.0 849.6L337.4 852.9L338.8 857.3L340.2 862.2L341.6 863.9L343.0 866.4L344.1 865.9L345.2 865.3L346.3 863.6L347.7 866.9L349.1 868.3L350.3 872.1L351.6 874.8L352.8 876.2L354.1 877.2L355.3 877.5L356.6 876.7L357.8 877.2L359.1 877.5L360.4 877.3L361.6 877.8L362.9 878.6L364.1 878.5L365.4 878.4L366.7 878.8L368.0 878.4L369.3 878.3L370.6 879.1L371.9 878.3L373.2 878.2L374.5 878.8L375.9 878.9L377.2 878.4L378.5 879.0L379.8 879.0L381.1 879.3L382.4 879.2L383.7 879.4L385.0 879.5L386.3 879.3L387.5 878.7L388.8 877.9L390.0 877.4L391.3 878.0L392.6 877.7L393.8 876.7L395.1 877.1L396.3 876.3L397.6 876.2L399.1 874.6L400.5 874.1L402.0 873.5L403.2 872.4L404.4 872.0L405.6 871.6L406.8 871.1L408.0 871.6L409.3 872.8L410.5 873.2L411.8 874.4L413.0 875.6L414.3 876.0L415.7 875.9L417.0 876.5L418.3 876.5L419.7 877.3L421.0 878.5L422.3 878.8L423.7 879.5L425.0 879.5L426.3 879.9L427.7 878.9L429.0 879.6L430.3 879.5L431.7 878.5L433.0 878.6L434.2 879.1L435.5 879.0L436.7 878.7L437.9 879.8L439.2 879.9L440.4 880.3L441.7 879.8L442.9 880.2L444.2 879.9L445.6 878.6L446.9 878.0L448.3 877.6L449.6 876.6L451.0 877.0L452.3 877.3L453.6 877.7L455.0 878.4L456.3 879.6L457.6 880.2L458.9 880.0L460.3 880.4L461.6 880.2L462.9 880.3L464.3 879.9L465.6 880.1L467.0 880.1L468.3 879.0L469.6 879.2L471.0 878.7L472.3 878.6L473.5 877.7L474.8 876.6L476.0 875.0L477.4 874.1L478.7 871.7L480.0 870.1L481.4 868.8L482.6 870.3L483.8 872.2L485.0 873.5L486.2 873.9L487.4 875.5L488.6 876.9L490.0 875.8L491.3 875.6L492.6 875.6L494.0 874.4L495.4 874.6L496.7 873.7L498.0 874.8L499.3 874.9L500.7 875.1L502.0 875.9L503.3 876.9L504.5 875.6L505.8 873.9L507.0 872.0L508.5 868.9L509.9 865.7L511.4 863.9L512.6 864.7L513.8 867.3L514.9 868.7L516.1 870.8L517.3 872.7L518.6 872.6L519.8 873.3L521.1 873.4L522.3 873.3L523.6 874.4L524.8 874.6L526.1 874.7L527.3 875.2L528.5 875.6L529.8 876.1L531.0 875.1L532.2 875.1L533.5 874.9L534.7 875.4L535.9 875.9L537.3 876.7L538.6 877.4L540.0 876.9L541.4 877.1L542.7 878.3L544.1 878.6L545.4 878.1L546.7 876.9L548.0 876.0L549.1 874.9L550.2 873.3L551.3 872.7L552.6 874.8L553.9 876.4L555.2 878.8L556.5 880.2L557.8 880.7L559.0 879.9L560.3 880.0L561.6 879.8L562.8 880.8L564.1 880.8L565.4 880.1L566.6 880.0L567.9 880.2L569.2 880.5L570.5 880.8L571.7 880.8L573.0 880.7L574.3 880.2L575.5 880.8L576.8 881.2L578.1 880.9L579.4 880.4L580.7 880.9L582.0 881.8L583.3 881.0L584.6 880.8L585.9 881.4L587.3 881.2L588.6 881.1L589.9 881.4L591.2 881.3L592.5 881.6L593.8 881.8L595.1 882.5L596.4 881.9L597.7 883.0L599.1 881.9L600.4 882.1L601.8 882.5L603.1 882.9L604.4 883.0L605.8 882.8L607.1 882.8L608.5 882.4L609.8 882.1L611.1 882.8L612.5 883.2L613.8 883.5L615.2 883.4L616.5 882.7"/>
</g>
<g stroke="#111" stroke-width="2" fill="none">
<path d="M93.8 899.8H624.9"/><path stroke="#b0b0b0" d="M87.6 899.8H93.8"/>
<path d="M87.6 890.8V900.5"/>
<path d="M114.5 895.0V900.5"/>
<path d="M141.3 890.8V900.5"/>
<path d="M168.2 895.0V900.5"/>
<path d="M195.0 890.8V900.5"/>
<path d="M221.9 895.0V900.5"/>
<path d="M248.8 890.8V900.5"/>
<path d="M275.6 895.0V900.5"/>
<path d="M302.5 890.8V900.5"/>
<path d="M329.4 895.0V900.5"/>
<path d="M356.2 890.8V900.5"/>
<path d="M383.1 895.0V900.5"/>
<path d="M409.9 890.8V900.5"/>
<path d="M436.8 895.0V900.5"/>
<path d="M463.7 890.8V900.5"/>
<path d="M490.5 895.0V900.5"/>
<path d="M517.4 890.8V900.5"/>
<path d="M544.3 895.0V900.5"/>
<path d="M571.1 890.8V900.5"/>
<path d="M598.0 895.0V900.5"/>
<path d="M624.9 890.8V900.5"/>
</g>
<g font-family="Liberation Sans, sans-serif" font-size="22.6" fill="#111" stroke="#111" stroke-width="0.35" text-anchor="middle">
<text x="88.8" y="928.8">10</text>
<text x="142.5" y="928.8">15</text>
<text x="195.0" y="928.8">20</text>
<text x="248.8" y="928.8">25</text>
<text x="302.5" y="928.8">30</text>
<text x="356.2" y="928.8">35</text>
<text x="409.9" y="928.8">40</text>
<text x="463.7" y="928.8">45</text>
<text x="517.4" y="928.8">50</text>
<text x="571.1" y="928.8">55</text>
<text x="624.9" y="928.8">60</text>
</g>
<text x="376.3" y="968.6" font-family="Liberation Sans, sans-serif" font-size="26" fill="#111" stroke="#111" stroke-width="0.3" text-anchor="middle">2Theta [°]</text>
<g font-family="Liberation Sans, sans-serif" font-size="17.7" fill="#1e1e1e" stroke="#1e1e1e" stroke-width="0.2" text-anchor="end">
<text x="73.5" y="145.0">BC-M2</text>
<text x="73.5" y="236.6">BC-S2</text>
<text x="72.5" y="326.9">BC-M1</text>
<text x="72.5" y="418.6">BC-S1</text>
<text x="60.5" y="510.9">BC-M</text>
<text x="61.0" y="601.9">BC-S</text>
<text x="63.3" y="686.1">Control</text>
<text x="72.3" y="770.3">AgGH-2</text>
<text x="71.3" y="861.1">AgGH-1</text>
</g>
<g fill="#e60000">
<ellipse cx="258.4" cy="107.6" rx="7.0" ry="6.3"/>
<ellipse cx="285.0" cy="133.0" rx="6.3" ry="6.9"/>
<ellipse cx="321.8" cy="86.8" rx="6.3" ry="6.9"/>
<ellipse cx="400.6" cy="133.2" rx="6.3" ry="6.9"/>
<ellipse cx="422.4" cy="142.4" rx="6.3" ry="6.9"/>
<ellipse cx="477.3" cy="135.4" rx="6.3" ry="6.9"/>
<ellipse cx="504.6" cy="137.3" rx="6.3" ry="6.9"/>
<ellipse cx="537.9" cy="139.4" rx="6.3" ry="6.9"/>
<ellipse cx="259.6" cy="191.6" rx="6.3" ry="6.9"/>
<ellipse cx="286.4" cy="217.4" rx="6.3" ry="6.9"/>
<ellipse cx="323.0" cy="171.2" rx="6.3" ry="6.9"/>
<ellipse cx="401.4" cy="217.4" rx="6.3" ry="6.9"/>
<ellipse cx="423.8" cy="226.3" rx="6.3" ry="6.9"/>
<ellipse cx="479.8" cy="225.4" rx="6.3" ry="6.9"/>
<ellipse cx="511.8" cy="227.0" rx="6.3" ry="6.9"/>
<ellipse cx="550.7" cy="228.5" rx="6.3" ry="6.9"/>
<ellipse cx="260.6" cy="310.9" rx="6.3" ry="6.9"/>
<ellipse cx="295.6" cy="310.4" rx="6.3" ry="6.9"/>
<ellipse cx="325.8" cy="292.2" rx="6.3" ry="6.9"/>
<ellipse cx="407.9" cy="303.2" rx="6.3" ry="6.9"/>
<ellipse cx="429.6" cy="311.8" rx="6.3" ry="6.9"/>
<ellipse cx="477.3" cy="325.4" rx="6.3" ry="6.9"/>
<ellipse cx="511.5" cy="328.5" rx="6.3" ry="6.9"/>
<ellipse cx="541.0" cy="332.9" rx="6.3" ry="6.9"/>
<ellipse cx="258.9" cy="385.8" rx="6.3" ry="6.9"/>
<ellipse cx="285.8" cy="411.6" rx="6.3" ry="6.9"/>
<ellipse cx="322.7" cy="364.6" rx="6.8" ry="6.1"/>
<ellipse cx="402.0" cy="411.6" rx="6.3" ry="6.9"/>
<ellipse cx="423.0" cy="419.4" rx="6.3" ry="6.9"/>
<ellipse cx="472.9" cy="412.3" rx="6.3" ry="6.9"/>
<ellipse cx="508.7" cy="404.5" rx="6.3" ry="6.9"/>
<ellipse cx="548.2" cy="418.5" rx="6.3" ry="6.9"/>
<ellipse cx="261.4" cy="501.7" rx="6.3" ry="6.9"/>
<ellipse cx="297.8" cy="502.0" rx="6.3" ry="6.9"/>
<ellipse cx="320.0" cy="446.0" rx="6.3" ry="6.9"/>
<ellipse cx="328.3" cy="484.0" rx="6.3" ry="6.9"/>
<ellipse cx="398.3" cy="502.0" rx="6.3" ry="6.9"/>
<ellipse cx="421.0" cy="506.1" rx="6.3" ry="6.9"/>
<ellipse cx="473.5" cy="508.2" rx="6.3" ry="6.9"/>
<ellipse cx="504.6" cy="502.9" rx="6.3" ry="6.9"/>
<ellipse cx="542.6" cy="510.7" rx="6.3" ry="6.9"/>
<ellipse cx="257.0" cy="558.5" rx="6.3" ry="6.9"/>
<ellipse cx="283.6" cy="583.8" rx="6.3" ry="6.9"/>
<ellipse cx="320.2" cy="536.8" rx="6.3" ry="6.9"/>
<ellipse cx="399.2" cy="583.8" rx="6.3" ry="6.9"/>
<ellipse cx="421.0" cy="593.6" rx="6.3" ry="6.9"/>
<ellipse cx="475.7" cy="586.4" rx="6.3" ry="6.9"/>
<ellipse cx="498.4" cy="582.3" rx="6.3" ry="6.9"/>
<ellipse cx="536.7" cy="590.7" rx="6.3" ry="6.9"/>
<ellipse cx="322.8" cy="648.8" rx="6.3" ry="6.9"/>
<ellipse cx="341.0" cy="680.4" rx="6.3" ry="6.9"/>
<ellipse cx="391.4" cy="680.4" rx="6.3" ry="6.9"/>
<ellipse cx="469.5" cy="676.6" rx="6.3" ry="6.9"/>
<ellipse cx="486.9" cy="653.3" rx="6.3" ry="6.9"/>
<ellipse cx="503.7" cy="663.5" rx="6.3" ry="6.9"/>
<ellipse cx="535.1" cy="673.5" rx="6.3" ry="6.9"/>
<ellipse cx="259.6" cy="744.8" rx="6.3" ry="6.9"/>
<ellipse cx="294.6" cy="766.6" rx="6.3" ry="6.9"/>
<ellipse cx="321.8" cy="713.3" rx="6.3" ry="6.9"/>
<ellipse cx="345.8" cy="756.0" rx="6.3" ry="6.9"/>
<ellipse cx="406.5" cy="766.6" rx="6.3" ry="6.9"/>
<ellipse cx="475.5" cy="766.5" rx="6.3" ry="6.9"/>
<ellipse cx="507.5" cy="760.9" rx="6.3" ry="6.9"/>
<ellipse cx="546.7" cy="771.4" rx="6.3" ry="6.9"/>
<ellipse cx="257.6" cy="834.8" rx="6.3" ry="6.9"/>
<ellipse cx="293.2" cy="859.4" rx="6.3" ry="6.9"/>
<ellipse cx="323.1" cy="807.4" rx="6.3" ry="6.9"/>
<ellipse cx="350.0" cy="846.0" rx="6.3" ry="6.9"/>
<ellipse cx="410.7" cy="856.0" rx="6.3" ry="6.9"/>
<ellipse cx="479.8" cy="856.4" rx="6.3" ry="6.9"/>
<ellipse cx="512.1" cy="850.8" rx="6.3" ry="6.9"/>
<ellipse cx="550.6" cy="861.3" rx="6.3" ry="6.9"/>
</g>
<g fill="#1a6ecb" stroke="#1257a6" stroke-width="1" stroke-linejoin="miter">
<path d="M121.5 116.7L127.3 124.8L121.5 132.9L115.7 124.8Z"/>
<path d="M223.6 129.1L229.4 137.2L223.6 145.3L217.8 137.2Z"/>
<path d="M306.3 111.3L312.1 119.4L306.3 127.5L300.5 119.4Z"/>
<path d="M345.1 119.5L350.9 127.6L345.1 135.7L339.3 127.6Z"/>
<path d="M488.5 133.8L494.3 141.9L488.5 150.0L482.7 141.9Z"/>
<path d="M121.4 204.7L127.2 212.8L121.4 220.9L115.6 212.8Z"/>
<path d="M224.1 217.9L229.9 226.0L224.1 234.1L218.3 226.0Z"/>
<path d="M308.8 191.7L314.6 199.8L308.8 207.9L303.0 199.8Z"/>
<path d="M348.2 213.5L354.0 221.6L348.2 229.7L342.4 221.6Z"/>
<path d="M489.1 225.4L494.9 233.5L489.1 241.6L483.3 233.5Z"/>
<path d="M118.0 281.5L123.8 289.6L118.0 297.7L112.2 289.6Z"/>
<path d="M153.0 305.3L158.8 313.4L153.0 321.5L147.2 313.4Z"/>
<path d="M220.0 294.3L225.8 302.4L220.0 310.5L214.2 302.4Z"/>
<path d="M306.2 264.3L312.0 272.4L306.2 280.5L300.4 272.4Z"/>
<path d="M346.5 287.5L352.3 295.6L346.5 303.7L340.7 295.6Z"/>
<path d="M486.9 306.4L492.7 314.5L486.9 322.6L481.1 314.5Z"/>
<path d="M115.0 392.5L120.8 400.6L115.0 408.7L109.2 400.6Z"/>
<path d="M149.4 405.1L155.2 413.2L149.4 421.3L143.6 413.2Z"/>
<path d="M217.1 405.1L222.9 413.2L217.1 421.3L211.3 413.2Z"/>
<path d="M306.2 380.3L312.0 388.4L306.2 396.5L300.4 388.4Z"/>
<path d="M345.1 387.3L350.9 395.4L345.1 403.5L339.3 395.4Z"/>
<path d="M486.6 393.3L492.4 401.4L486.6 409.5L480.8 401.4Z"/>
<path d="M112.4 476.5L118.2 484.6L112.4 492.7L106.6 484.6Z"/>
<path d="M147.4 489.7L153.2 497.8L147.4 505.9L141.6 497.8Z"/>
<path d="M215.2 489.7L221.0 497.8L215.2 505.9L209.4 497.8Z"/>
<path d="M305.4 442.9L311.2 451.0L305.4 459.1L299.6 451.0Z"/>
<path d="M346.0 476.5L351.8 484.6L346.0 492.7L340.2 484.6Z"/>
<path d="M484.4 490.8L490.2 498.9L484.4 507.0L478.6 498.9Z"/>
<path d="M113.8 564.9L119.6 573.0L113.8 581.1L108.0 573.0Z"/>
<path d="M148.8 576.9L154.6 585.0L148.8 593.1L143.0 585.0Z"/>
<path d="M216.6 576.9L222.4 585.0L216.6 593.1L210.8 585.0Z"/>
<path d="M305.4 536.5L311.2 544.6L305.4 552.7L299.6 544.6Z"/>
<path d="M343.2 555.3L349.0 563.4L343.2 571.5L337.4 563.4Z"/>
<path d="M485.1 568.9L490.9 577.0L485.1 585.1L479.3 577.0Z"/>
<path d="M96.8 652.1L102.6 660.2L96.8 668.3L91.0 660.2Z"/>
<path d="M131.8 664.1L137.6 672.2L131.8 680.3L126.0 672.2Z"/>
<path d="M164.6 664.1L170.4 672.2L164.6 680.3L158.8 672.2Z"/>
<path d="M199.6 664.1L205.4 672.2L199.6 680.3L193.8 672.2Z"/>
<path d="M310.2 657.5L316.0 665.6L310.2 673.7L304.4 665.6Z"/>
<path d="M332.6 652.7L338.4 660.8L332.6 668.9L326.8 660.8Z"/>
<path d="M355.5 656.1L361.3 664.2L355.5 672.3L349.7 664.2Z"/>
<path d="M494.7 631.5L500.5 639.6L494.7 647.7L488.9 639.6Z"/>
</g>
<ellipse cx="30.6" cy="20.4" rx="6.3" ry="6.6" fill="#e60000"/>
<path d="M32.6 42.4L38.8 51L32.6 59.6L26.4 51Z" fill="#1a6ecb" stroke="#1257a6" stroke-width="1"/>
<text transform="translate(53.2 24.9) scale(1.052 1)" font-family="Liberation Sans, sans-serif" font-size="20.5" fill="#1a1a1a" stroke="#1a1a1a" stroke-width="0.12">Hydroxyapatite</text>
<text transform="translate(51.2 56.6) scale(1.047 1)" font-family="Liberation Sans, sans-serif" font-size="20.5" fill="#1a1a1a" stroke="#1a1a1a" stroke-width="0.12">α-tricalcium phosphate</text></svg>
</body></html>
